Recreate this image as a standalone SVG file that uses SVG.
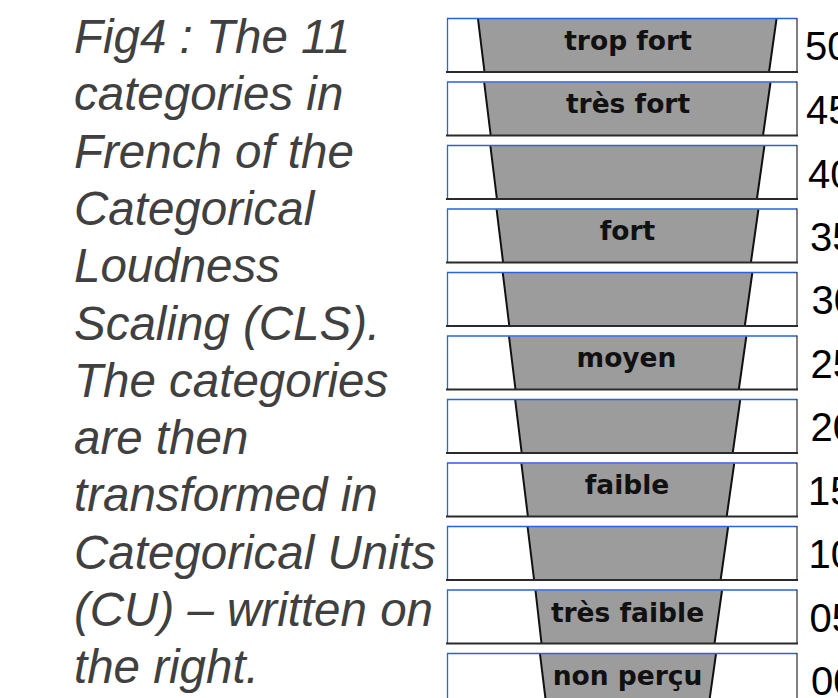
<svg xmlns="http://www.w3.org/2000/svg" width="838" height="698" viewBox="0 0 838 698">
<style>
.cap{font-family:"Liberation Sans",Arial,sans-serif;font-style:italic;font-size:47.5px;fill:#404040}
.box{fill:#ffffff}
.tb{stroke:#2a62e0;stroke-width:1.3;fill:none}
.dk{stroke:#2a2a2a;fill:none}
.fun{fill:#9c9c9c}
.side{stroke:#111;stroke-width:2;fill:none}
.lab{font-family:"DejaVu Sans",Verdana,sans-serif;font-weight:bold;font-size:26.5px;fill:#111;text-anchor:middle}
.num{font-family:"Liberation Sans",Arial,sans-serif;font-size:40px;fill:#000}
</style>
<rect width="838" height="698" fill="#ffffff"/>
<g id="caption" class="cap">
<text x="74" y="53">Fig4 : The 11</text>
<text x="74" y="110.3">categories in</text>
<text x="74" y="167.6">French of the</text>
<text x="74" y="224.9">Categorical</text>
<text x="74" y="282.2">Loudness</text>
<text x="74" y="339.5">Scaling (CLS).</text>
<text x="74" y="396.8">The categories</text>
<text x="74" y="454.1">are then</text>
<text x="74" y="511.4">transformed in</text>
<text x="74" y="568.7">Categorical Units</text>
<text x="74" y="626">(CU) – written on</text>
<text x="74" y="683.3">the right.</text>
</g>
<g id="row50">
<rect class="box" x="447" y="18" width="350" height="54"/>
<polygon class="fun" points="478,19 776.5,19 769,72 484.5,72"/>
<path class="side" d="M478,19 L484.5,72 M776.5,19 L769,72"/>
<path class="tb" d="M447.5,72 V18.5 H797"/>
<path class="dk" stroke-width="1.2" d="M797,18 V72"/>
<path class="dk" stroke-width="2" d="M446,72 H798"/>
<text class="lab" x="628" y="49.5">trop fort</text>
<text class="num" x="805" y="60">50</text>
</g>
<g id="row45">
<rect class="box" x="447" y="81.5" width="350" height="54"/>
<polygon class="fun" points="484.2,82.5 770.5,82.5 763,135.5 490.7,135.5"/>
<path class="side" d="M484.2,82.5 L490.7,135.5 M770.5,82.5 L763,135.5"/>
<path class="tb" d="M447.5,135.5 V82 H797"/>
<path class="dk" stroke-width="1.2" d="M797,81.5 V135.5"/>
<path class="dk" stroke-width="2" d="M446,135.5 H798"/>
<text class="lab" x="628" y="112.5">très fort</text>
<text class="num" x="806" y="123.5">45</text>
</g>
<g id="row40">
<rect class="box" x="447" y="145" width="350" height="54"/>
<polygon class="fun" points="490.4,146 764.4,146 756.9,199 496.9,199"/>
<path class="side" d="M490.4,146 L496.9,199 M764.4,146 L756.9,199"/>
<path class="tb" d="M447.5,199 V145.5 H797"/>
<path class="dk" stroke-width="1.2" d="M797,145 V199"/>
<path class="dk" stroke-width="2" d="M446,199 H798"/>
<text class="num" x="808" y="188">40</text>
</g>
<g id="row35">
<rect class="box" x="447" y="208.5" width="350" height="54"/>
<polygon class="fun" points="496.6,209.5 758.4,209.5 750.9,262.5 503.1,262.5"/>
<path class="side" d="M496.6,209.5 L503.1,262.5 M758.4,209.5 L750.9,262.5"/>
<path class="tb" d="M447.5,262.5 V209 H797"/>
<path class="dk" stroke-width="1.2" d="M797,208.5 V262.5"/>
<path class="dk" stroke-width="2" d="M446,262.5 H798"/>
<text class="lab" x="627.5" y="240">fort</text>
<text class="num" x="810" y="250.5">35</text>
</g>
<g id="row30">
<rect class="box" x="447" y="272" width="350" height="54"/>
<polygon class="fun" points="502.8,273 752.3,273 744.8,326 509.3,326"/>
<path class="side" d="M502.8,273 L509.3,326 M752.3,273 L744.8,326"/>
<path class="tb" d="M447.5,326 V272.5 H797"/>
<path class="dk" stroke-width="1.2" d="M797,272 V326"/>
<path class="dk" stroke-width="2" d="M446,326 H798"/>
<text class="num" x="811.5" y="314">30</text>
</g>
<g id="row25">
<rect class="box" x="447" y="335.5" width="350" height="54"/>
<polygon class="fun" points="509,336.5 746.3,336.5 738.8,389.5 515.5,389.5"/>
<path class="side" d="M509,336.5 L515.5,389.5 M746.3,336.5 L738.8,389.5"/>
<path class="tb" d="M447.5,389.5 V336 H797"/>
<path class="dk" stroke-width="1.2" d="M797,335.5 V389.5"/>
<path class="dk" stroke-width="2" d="M446,389.5 H798"/>
<text class="lab" x="626.5" y="367">moyen</text>
<text class="num" x="810.5" y="377.5">25</text>
</g>
<g id="row20">
<rect class="box" x="447" y="399" width="350" height="54"/>
<polygon class="fun" points="515.2,400 740.2,400 732.7,453 521.7,453"/>
<path class="side" d="M515.2,400 L521.7,453 M740.2,400 L732.7,453"/>
<path class="tb" d="M447.5,453 V399.5 H797"/>
<path class="dk" stroke-width="1.2" d="M797,399 V453"/>
<path class="dk" stroke-width="2" d="M446,453 H798"/>
<text class="num" x="810.5" y="441">20</text>
</g>
<g id="row15">
<rect class="box" x="447" y="462.5" width="350" height="54"/>
<polygon class="fun" points="521.4,463.5 734.2,463.5 726.7,516.5 527.9,516.5"/>
<path class="side" d="M521.4,463.5 L527.9,516.5 M734.2,463.5 L726.7,516.5"/>
<path class="tb" d="M447.5,516.5 V463 H797"/>
<path class="dk" stroke-width="1.2" d="M797,462.5 V516.5"/>
<path class="dk" stroke-width="2" d="M446,516.5 H798"/>
<text class="lab" x="627" y="493.5">faible</text>
<text class="num" x="808" y="504.5">15</text>
</g>
<g id="row10">
<rect class="box" x="447" y="526" width="350" height="54"/>
<polygon class="fun" points="527.6,527 728.1,527 720.6,580 534.1,580"/>
<path class="side" d="M527.6,527 L534.1,580 M728.1,527 L720.6,580"/>
<path class="tb" d="M447.5,580 V526.5 H797"/>
<path class="dk" stroke-width="1.2" d="M797,526 V580"/>
<path class="dk" stroke-width="2" d="M446,580 H798"/>
<text class="num" x="808.5" y="568">10</text>
</g>
<g id="row05">
<rect class="box" x="447" y="589.5" width="350" height="54"/>
<polygon class="fun" points="535.5,590.5 722,590.5 714.5,643.5 541.5,643.5"/>
<path class="side" d="M535.5,590.5 L541.5,643.5 M722,590.5 L714.5,643.5"/>
<path class="tb" d="M447.5,643.5 V590 H797"/>
<path class="dk" stroke-width="1.2" d="M797,589.5 V643.5"/>
<path class="dk" stroke-width="2" d="M446,643.5 H798"/>
<text class="lab" x="627.5" y="621.5">très faible</text>
<text class="num" x="809.5" y="631.5">05</text>
</g>
<g id="row00">
<rect class="box" x="447" y="653" width="350" height="54"/>
<polygon class="fun" points="540,654 716,654 708.5,707 546.5,707"/>
<path class="side" d="M540,654 L546.5,707 M716,654 L708.5,707"/>
<path class="tb" d="M447.5,707 V653.5 H797"/>
<path class="dk" stroke-width="1.2" d="M797,653 V707"/>
<text class="lab" x="627.5" y="684.5">non perçu</text>
<text class="num" x="811" y="695">00</text>
</g>
</svg>
